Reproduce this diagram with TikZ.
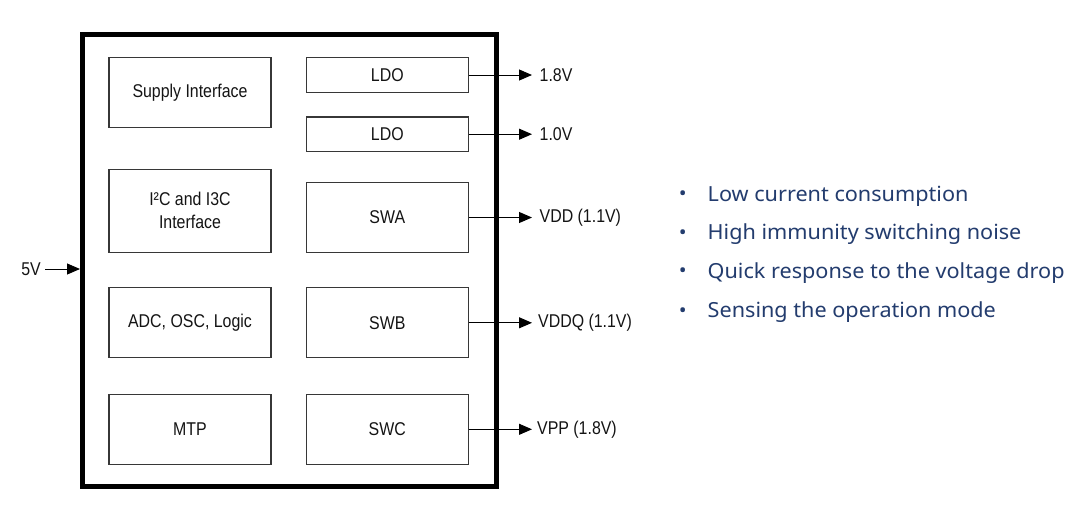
\documentclass[tikz,border=0pt]{standalone}
\usepackage{fontspec}
\usetikzlibrary{arrows.meta}
\newfontfamily\diagfont[FakeStretch=0.86]{Liberation Sans}
\newfontfamily\bulletfont[FakeStretch=1.04]{Noto Sans}
\definecolor{bluetext}{RGB}{35,60,110}
\definecolor{boxline}{RGB}{55,55,55}
\tikzset{
  blk/.style={draw=boxline, line width=1.3pt, minimum width=162pt, align=center, inner sep=0pt,
    font=\diagfont\fontsize{18.5}{23}\selectfont, text=black!92},
  outlbl/.style={anchor=west, inner sep=0pt, font=\diagfont\fontsize{18.5}{20}\selectfont, text=black!92},
  arr/.style={line width=1pt, -{Triangle[length=13pt,width=11pt]}},
  bul/.style={anchor=west, inner sep=0pt, font=\bulletfont\fontsize{20.8}{24}\selectfont, text=bluetext},
  dot/.style={anchor=center, inner sep=0pt, font=\bulletfont\fontsize{20}{20}\selectfont, text=bluetext}
}
\begin{document}
\begin{tikzpicture}[x=1pt,y=-1pt]
\useasboundingbox (0,0) rectangle (1087,515);
\fill[white] (0,0) rectangle (1087,515);
% outer chip box
\draw[line width=5pt] (82.5,34.5) rectangle (496.5,486.5);
\coordinate (chipw) at (80,269);
% left column
\node[blk, minimum height=69.6pt] (sup) at (190,92.5) {Supply Interface};
\node[blk, minimum height=83pt] (i2c) at (190,210.8) {I²C and I3C\\Interface};
\node[blk, minimum height=70pt] (adc) at (190,322.3) {ADC, OSC, Logic};
\node[blk, minimum height=70pt] (mtp) at (190,429.3) {MTP};
% right column
\node[blk, minimum height=34.6pt] (ldoa) at (387.3,75) {LDO};
\node[blk, minimum height=34.7pt] (ldob) at (387.3,134.2) {LDO};
\node[blk, minimum height=69.6pt] (swa) at (387.3,217.5) {SWA};
\node[blk, minimum height=70pt] (swb) at (387.3,322.8) {SWB};
\node[blk, minimum height=70pt] (swc) at (387.3,429.3) {SWC};
% outputs
\coordinate (oa) at (532,75);
\coordinate (ob) at (532,134.2);
\coordinate (oc) at (532,217.5);
\coordinate (od) at (532,322.8);
\coordinate (oe) at (532,429.3);
\draw[arr] (ldoa.east) -- (oa);
\draw[arr] (ldob.east) -- (ob);
\draw[arr] (swa.east) -- (oc);
\draw[arr] (swb.east) -- (od);
\draw[arr] (swc.east) -- (oe);
\node[outlbl] (la) at (539.5,75) {1.8V};
\node[outlbl] (lb) at (539.5,134.2) {1.0V};
\node[outlbl] (lc) at (539.5,217.5) {VDD (1.1V)};
\node[outlbl] (ld) at (538,322.8) {VDDQ (1.1V)};
\node[outlbl] (le) at (537,429.3) {VPP (1.8V)};
% 5V input
\node[outlbl, anchor=east] (v5) at (41,269) {5V};
\draw[arr] (v5.east) ++(4,0) coordinate (v5s) (v5s) -- (chipw);
% bullets
\foreach \yy/\tt [count=\i] in {196/Low current consumption, 234.5/High immunity switching noise, 273/Quick response to the voltage drop, 312.5/Sensing the operation mode}{
  \node[dot] (d\i) at (682.7,\yy) {•};
  \node[bul] (b\i) at (707.5,\yy) {\tt};
}
\end{tikzpicture}
\end{document}
